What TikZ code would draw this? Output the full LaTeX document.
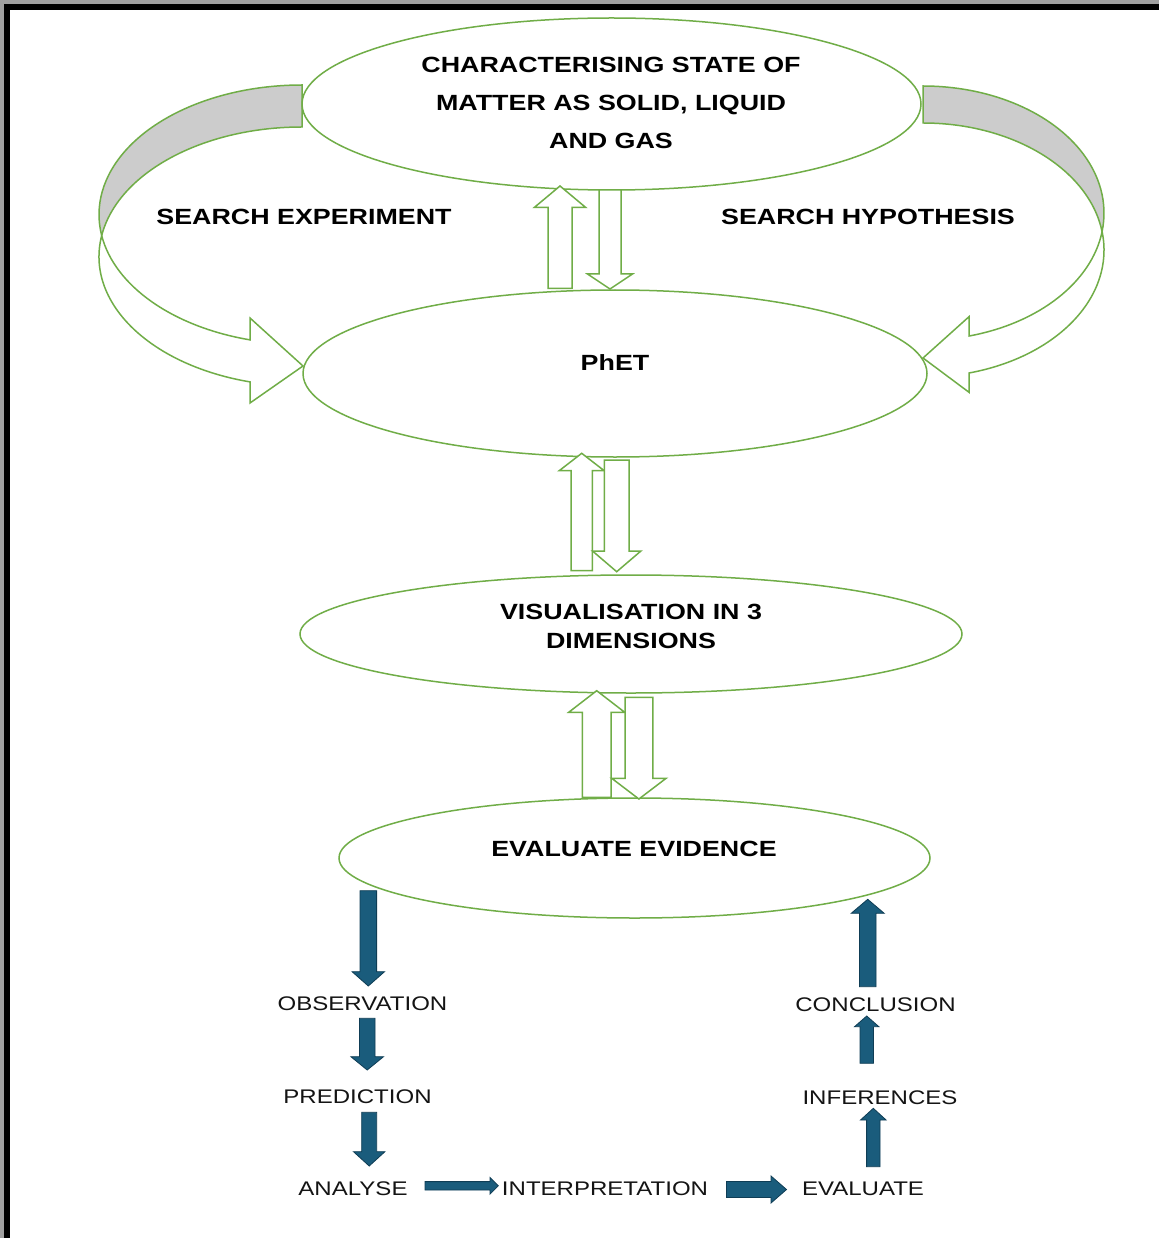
\documentclass[tikz,border=0pt]{standalone}
\usepackage{fontspec}
\setmainfont{Liberation Sans}[FakeStretch=1.22]
\usetikzlibrary{shapes.geometric}
\definecolor{grn}{HTML}{70AD47}
\definecolor{blu}{HTML}{1A5C7C}
\definecolor{bluedge}{HTML}{0F3D55}
\definecolor{bandgray}{HTML}{CCCCCC}
\definecolor{frgray}{HTML}{A0A0A0}
\newcommand\vblk[7]{% style, x, ytail, ybase, ytip, shaft half, head half
  \draw[#1] ({#2-#6},#3) -- ({#2-#6},#4) -- ({#2-#7},#4) -- (#2,#5) -- ({#2+#7},#4) -- ({#2+#6},#4) -- ({#2+#6},#3) -- cycle;}
\newcommand\hblk[7]{% style, y, xtail, xbase, xtip, shaft half, head half
  \draw[#1] (#3,{#2-#6}) -- (#4,{#2-#6}) -- (#4,{#2-#7}) -- (#5,#2) -- (#4,{#2+#7}) -- (#4,{#2+#6}) -- (#3,{#2+#6}) -- cycle;}
\begin{document}
\begin{tikzpicture}[x=1pt,y=-1pt,
  oval/.style={ellipse,draw=grn,line width=1.5pt,inner sep=0pt},
  btxt/.style={font=\bfseries\fontsize{22}{38}\selectfont,align=center,inner sep=0pt},
  btxtv/.style={font=\bfseries\fontsize{22}{29}\selectfont,align=center,inner sep=0pt},
  ntxt/.style={font=\fontsize{19.7}{23}\selectfont,inner sep=0pt,text=black!92},
  garrow/.style={draw=grn,line width=1.5pt,fill=white,line join=miter},
  barrow/.style={draw=bluedge,line width=0.8pt,fill=blu,line join=miter},
  backband/.style={draw=grn,line width=1.5pt,fill=bandgray,line join=miter},
  frontband/.style={draw=grn,line width=1.5pt,fill=white,line join=miter}]
% canvas and frame
\useasboundingbox (0,0) rectangle (1159,1238);
\fill[white] (0,0) rectangle (1159,1238);
\fill[frgray] (0,0) rectangle (1159,4);
\fill[frgray] (0,0) rectangle (4,1238);
\fill[black] (4,4) rectangle (1159,10);
\fill[black] (4,4) rectangle (10,1238);

% left curved arrow (search experiment)
\draw[backband] (302,85) arc[start angle=270,end angle=170.675,x radius=203,y radius=129.6]
  arc[start angle=189.325,end angle=270,x radius=203,y radius=129.6] -- cycle;
\draw[frontband] (101.7,235.6) arc[start angle=170.675,end angle=104.84,x radius=203,y radius=129.6]
  -- (250,318) -- (303,366) -- (250,403) -- (250,381.9)
  arc[start angle=104.84,end angle=189.325,x radius=203,y radius=129.6] -- cycle;

% right curved arrow (search hypothesis)
\draw[backband] (923,86) arc[start angle=270,end angle=368.369,x radius=181,y radius=127.1]
  arc[start angle=351.631,end angle=270,x radius=181,y radius=127.1] -- cycle;
\draw[frontband] (1102.1,231.6) arc[start angle=8.369,end angle=75.277,x radius=181,y radius=127.1]
  -- (969,316.7) -- (923,358) -- (969,392.3) -- (969,373)
  arc[start angle=75.277,end angle=-8.369,x radius=181,y radius=127.1] -- cycle;

% ellipses
\node[oval,minimum width=619pt,minimum height=172pt] (top) at (611.5,104) {};
\node[oval,minimum width=624pt,minimum height=167pt] (phet) at (615,373.5) {};
\node[oval,minimum width=662pt,minimum height=118pt] (vis) at (631,634) {};
\node[oval,minimum width=591pt,minimum height=120pt] (evid) at (634.5,858) {};

% texts
\node[btxt] (toptxt) at (611,103) {CHARACTERISING STATE OF\\MATTER AS SOLID, LIQUID\\AND GAS};
\node[btxt] (sexp) at (304,217) {SEARCH EXPERIMENT};
\node[btxt] (shyp) at (868,217) {SEARCH HYPOTHESIS};
\node[btxt] (phettxt) at (615,363) {PhET};
\node[btxtv] (vistxt) at (631,626.5) {VISUALISATION IN 3\\DIMENSIONS};
\node[btxt] (evidtxt) at (634,849) {EVALUATE EVIDENCE};

\node[ntxt] (obs) at (362.5,1004) {OBSERVATION};
\node[ntxt] (pred) at (357.5,1097) {PREDICTION};
\node[ntxt] (ana) at (353,1189) {ANALYSE};
\node[ntxt] (interp) at (605,1188.5) {INTERPRETATION};
\node[ntxt] (eval) at (863,1189) {EVALUATE};
\node[ntxt] (infer) at (880,1097.5) {INFERENCES};
\node[ntxt] (concl) at (875.5,1004.5) {CONCLUSION};

% green block arrows between ellipses
\vblk{garrow}{560}{288.3}{207.3}{186}{12}{25.5}
\vblk{garrow}{610}{190}{274}{289}{11}{22.5}
\vblk{garrow}{581.7}{570.7}{470.7}{453.3}{10.7}{22.5}
\vblk{garrow}{616.7}{460}{551}{571.7}{12.3}{24.2}
\vblk{garrow}{596.7}{797.3}{712.3}{690.7}{14.3}{28}
\vblk{garrow}{638.9}{697.3}{778.3}{799}{13.9}{27.2}

% blue arrows of the cycle
\vblk{barrow}{368.3}{890.7}{971.7}{986}{8.3}{16.2}
\vblk{barrow}{367.2}{1018.3}{1056.7}{1070}{7.8}{16.3}
\vblk{barrow}{369.2}{1112.3}{1151.7}{1166}{7.5}{15.7}
\hblk{barrow}{1185.8}{425}{490}{498.3}{4.2}{8.3}
\hblk{barrow}{1189.5}{726.5}{771}{786.5}{8}{13.5}
\vblk{barrow}{873.3}{1166.7}{1120}{1108.3}{6.7}{12.8}
\vblk{barrow}{866.7}{1063.3}{1026.7}{1016}{6.7}{12.2}
\vblk{barrow}{867.7}{986.7}{913.3}{899.3}{8.3}{16.5}
\end{tikzpicture}
\end{document}
